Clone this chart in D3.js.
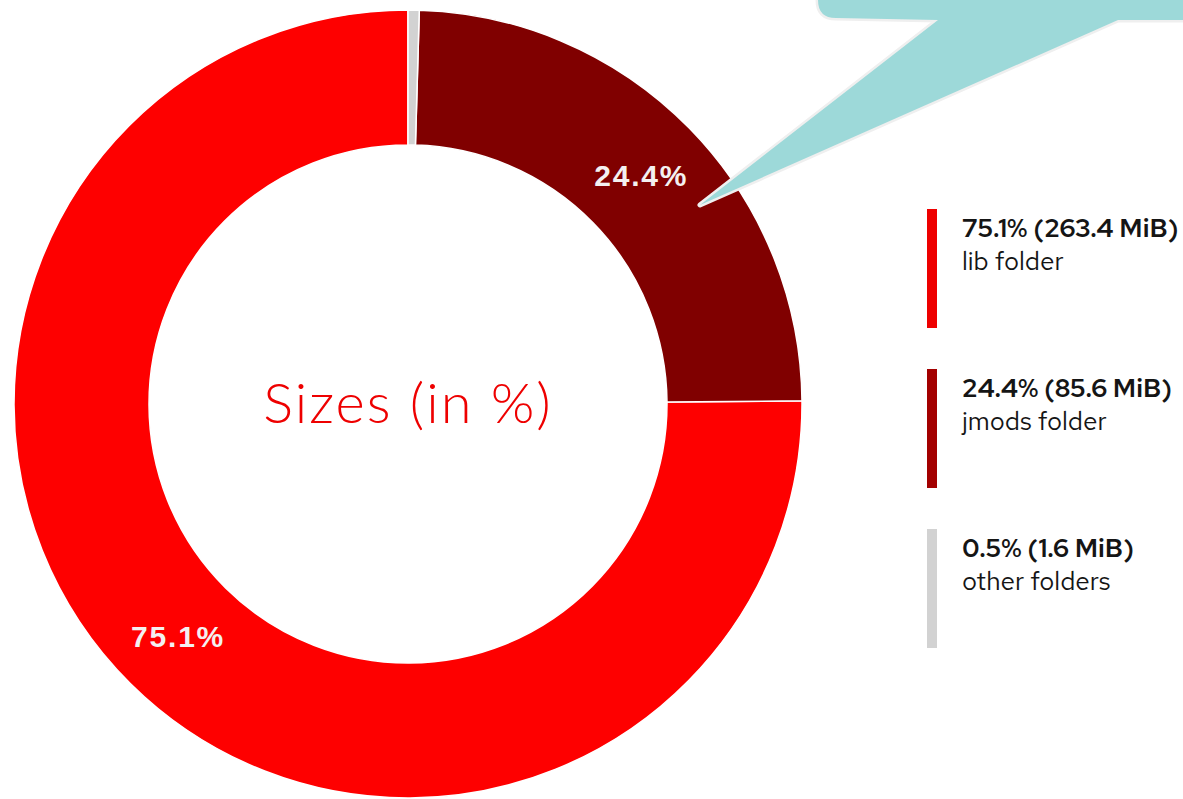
<!DOCTYPE html>
<html>
<head>
<meta charset="utf-8">
<script src="https://cdn.jsdelivr.net/npm/d3@7"></script>
<style>
  html, body { margin: 0; padding: 0; background: #fff; }
  svg { display: block; }
</style>
</head>
<body>
<svg id="chart" width="1183" height="799"></svg>
<script>
// Folder sizes of the JDK image, in MiB (legend order)
const categories = ["lib folder", "jmods folder", "other folders"];
const sizesMiB = [263.4, 85.6, 1.6];
const percentLabels = ["75.1%", "24.4%", "0.5%"];
const colors = ["#ee0000", "#a30000", "#d2d2d2"];
const sliceColors = ["#fe0000", "#800000", "#d2d2d2"];
const centerTitle = "Sizes (in %)";

const svg = d3.select("#chart");
const cx = 408, cy = 404, rOuter = 394, rInner = 259;

// Donut: smallest slice first, clockwise from 12 o'clock
const rows = categories.map((c, i) => ({
  name: c, value: sizesMiB[i], pct: percentLabels[i],
  color: colors[i], slice: sliceColors[i], idx: i
}));
const pie = d3.pie().value(d => d.value).sort((a, b) => a.value - b.value);
const arcs = pie(rows);
const arc = d3.arc().innerRadius(rInner).outerRadius(rOuter);

const g = svg.append("g").attr("transform", `translate(${cx},${cy})`);
g.selectAll("path.slice")
  .data(arcs)
  .join("path")
  .attr("class", "slice")
  .attr("d", arc)
  .attr("fill", d => d.data.slice)
  .attr("stroke", "#ffffff")
  .attr("stroke-width", 1.5);

// Percentage labels on slices large enough to hold them
g.selectAll("text.pct")
  .data(arcs.filter(d => d.endAngle - d.startAngle > 0.2))
  .join("text")
  .attr("class", "pct")
  .attr("transform", d => `translate(${arc.centroid(d)})`)
  .attr("text-anchor", "middle")
  .attr("dy", "0.36em")
  .style("font-family", "Arial, 'Liberation Sans', sans-serif")
  .style("font-weight", "bold")
  .style("font-size", "30px")
  .style("letter-spacing", "1.8px")
  .attr("fill", "#f4f0f0")
  .text(d => d.data.pct);

// Title in the hole
g.append("text")
  .attr("text-anchor", "middle")
  .attr("y", 19)
  .style("font-family", "Lato, 'Noto Sans', sans-serif")
  .style("font-weight", 300)
  .style("font-size", "56px")
  .style("letter-spacing", "2px")
  .attr("fill", "#ee0000")
  .text(centerTitle);

// Speech bubble in the top-right corner pointing at the jmods slice
const bubble = d3.path();
bubble.moveTo(818, -60);
bubble.lineTo(818, 0);
bubble.quadraticCurveTo(818, 18, 836, 18);
bubble.lineTo(938, 20);
bubble.lineTo(700, 205);
bubble.lineTo(1118, 20);
bubble.lineTo(1260, 20);
bubble.lineTo(1260, -60);
bubble.closePath();
svg.append("path")
  .attr("d", bubble.toString())
  .attr("fill", "#9dd9d9")
  .attr("stroke", "#efefef")
  .attr("stroke-width", 5)
  .attr("stroke-linejoin", "round")
  .style("paint-order", "stroke");

// Legend on the right
const legendY = d3.scalePoint().domain(d3.range(rows.length)).range([209, 529]);
const lg = svg.append("g");
const item = lg.selectAll("g.item")
  .data(rows)
  .join("g")
  .attr("class", "item")
  .attr("transform", (d, i) => `translate(927,${legendY(i)})`);
item.append("rect")
  .attr("width", 10)
  .attr("height", 119)
  .attr("fill", d => d.color);
item.append("text")
  .attr("x", 35)
  .attr("y", 28)
  .style("font-family", "'Red Hat Text', 'Noto Sans', sans-serif")
  .style("font-weight", 600)
  .style("font-size", "26px")
  .attr("fill", "#151515")
  .text(d => `${d.pct} (${d.value.toFixed(1)} MiB)`);
item.append("text")
  .attr("x", 35)
  .attr("y", 61)
  .style("font-family", "'Red Hat Text', 'Noto Sans', sans-serif")
  .style("font-weight", 400)
  .style("font-size", "26px")
  .attr("fill", "#151515")
  .text(d => d.name);
</script>
</body>
</html>
